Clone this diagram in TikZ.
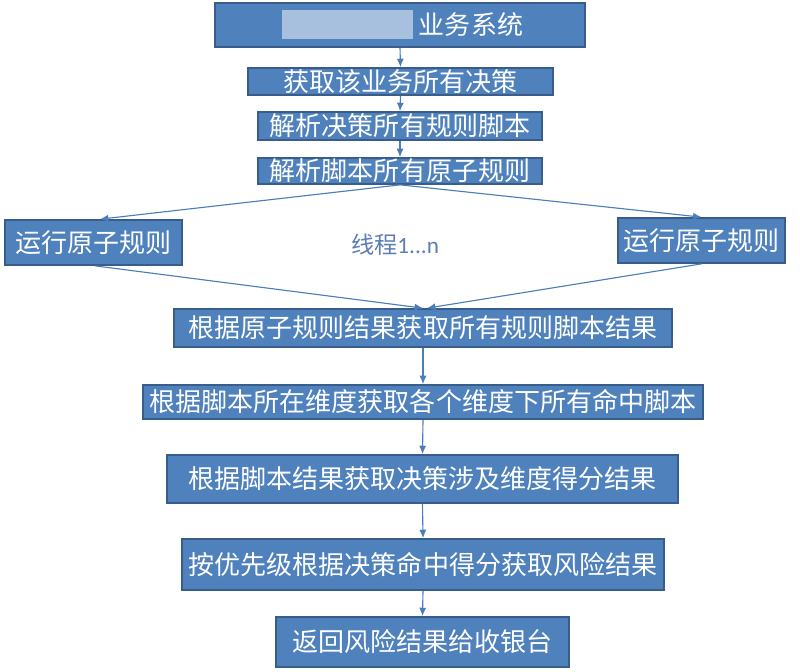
\documentclass[tikz,border=0pt]{standalone}
\usepackage{fontspec}
\setmainfont{Noto Sans CJK SC}
\newfontfamily\latinfont{Carlito}
\usetikzlibrary{arrows.meta}
\definecolor{boxfill}{HTML}{4F81BD}
\definecolor{boxline}{HTML}{385D8A}
\definecolor{arrowblue}{HTML}{4A7EBB}
\definecolor{labelblue}{HTML}{5B7DB3}
\newcommand{\pxl}{0.025cm}
\tikzset{
  procbox/.style={draw=boxline, line width=1.2pt, fill=boxfill, text=white,
    inner sep=0pt, font=\fontsize{18.5}{19}\selectfont},
  flow/.style={draw=arrowblue, line width=0.8pt, -{Latex[length=6pt,width=5pt]}},
  blurpatch/.style={fill=boxfill!50!white}
}

\begin{document}
\begin{tikzpicture}[x=0.025cm, y=-0.025cm]
\useasboundingbox (0,0) rectangle (800,671);

% top part
\node[procbox, minimum width=370*\pxl, minimum height=44*\pxl] (sys) at (400,25) {};
\fill[blurpatch] (282,10) rectangle (413,39);
\node[text=white, inner sep=0pt, font=\fontsize{18.5}{19}\selectfont] (systxt) at (471,25) {业务系统};
\node[procbox, minimum width=305*\pxl, minimum height=27*\pxl] (get) at (400.5,81.5) {获取该业务所有决策};
\node[procbox, minimum width=284*\pxl, minimum height=28*\pxl] (parse) at (400,126) {解析决策所有规则脚本};
\node[procbox, minimum width=284*\pxl, minimum height=26*\pxl] (atoms) at (400,171) {解析脚本所有原子规则};

% threads
\node[procbox, minimum width=177*\pxl, minimum height=45*\pxl] (runL) at (93.5,242.5) {运行原子规则};
\node[procbox, minimum width=167*\pxl, minimum height=45*\pxl] (runR) at (701.5,240.5) {运行原子规则};
\node[text=labelblue, font=\fontsize{16.5}{17}\selectfont] (thread) at (395,245) {线程{\latinfont 1...n}};

% lower part
\node[procbox, minimum width=498*\pxl, minimum height=38*\pxl] (scripts) at (423,328) {根据原子规则结果获取所有规则脚本结果};
\node[procbox, minimum width=560*\pxl, minimum height=34*\pxl] (dims) at (423,402) {根据脚本所在维度获取各个维度下所有命中脚本};
\node[procbox, minimum width=511*\pxl, minimum height=48*\pxl] (score) at (422.5,479) {根据脚本结果获取决策涉及维度得分结果};
\node[procbox, minimum width=482*\pxl, minimum height=51*\pxl] (risk) at (423,564.5) {按优先级根据决策命中得分获取风险结果};
\node[procbox, minimum width=293*\pxl, minimum height=50*\pxl] (ret) at (422.5,642) {返回风险结果给收银台};

\draw[flow] (sys.south) -- (get.north);
\draw[flow] (get.south) -- (parse.north);
\draw[flow] (parse.south) -- (atoms.north);
\draw[flow] (atoms.south) -- ([xshift=6.5*\pxl]runL.north);
\draw[flow] (atoms.south) -- (runR.north);
\draw[flow] ([xshift=1.5*\pxl]runL.south) -- (scripts.north);
\draw[flow] (runR.south) -- ([xshift=4*\pxl]scripts.north);
\draw[flow] (scripts.south) -- (dims.north);
\draw[flow] (dims.south) -- (score.north);
\draw[flow] (score.south) -- (risk.north);
\draw[flow] (risk.south) -- (ret.north);
\end{tikzpicture}
\end{document}
